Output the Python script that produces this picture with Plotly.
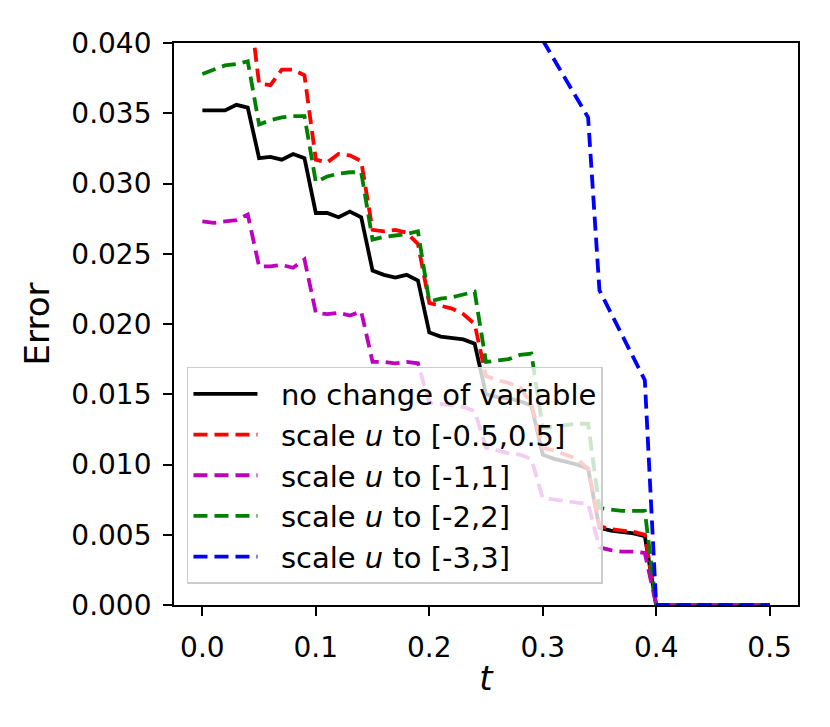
import plotly.graph_objects as go

t = [round(0.01 * i, 2) for i in range(51)]

zeros_tail = [0.0] * 11  # t = 0.40 ... 0.50

no_change = [0.0352, 0.0352, 0.0352, 0.0356, 0.0354,
             0.0318, 0.0319, 0.0317, 0.0321, 0.0318,
             0.0279, 0.0279, 0.0276, 0.0280, 0.0276,
             0.0238, 0.0235, 0.0233, 0.0235, 0.0231,
             0.0194, 0.0191, 0.0190, 0.0189, 0.0186,
             0.0150, 0.0148, 0.0147, 0.0145, 0.0142,
             0.0107, 0.0104, 0.0102, 0.0100, 0.0097,
             0.0055, 0.0053, 0.0052, 0.0051, 0.0049] + zeros_tail

scale_05 = [0.0429, 0.0429, 0.0430, 0.0435, 0.0437,
            0.0371, 0.0370, 0.0381, 0.0381, 0.0377,
            0.0317, 0.0315, 0.0321, 0.0320, 0.0316,
            0.0267, 0.0266, 0.0267, 0.0265, 0.0257,
            0.0215, 0.0213, 0.0211, 0.0207, 0.0200,
            0.0163, 0.0160, 0.0158, 0.0155, 0.0143,
            0.0112, 0.0110, 0.0107, 0.0104, 0.0097,
            0.0056, 0.0054, 0.0053, 0.0052, 0.0050] + zeros_tail

scale_1 = [0.0273, 0.0272, 0.0273, 0.0274, 0.0278,
           0.0241, 0.0241, 0.0242, 0.0240, 0.0246,
           0.0208, 0.0207, 0.0208, 0.0206, 0.0209,
           0.0173, 0.0173, 0.0172, 0.0173, 0.0172,
           0.0144, 0.0143, 0.0142, 0.0141, 0.0138,
           0.0112, 0.0110, 0.0108, 0.0107, 0.0104,
           0.0076, 0.0075, 0.0074, 0.0073, 0.0072,
           0.0041, 0.0039, 0.0038, 0.0038, 0.0037] + zeros_tail

scale_2 = [0.0378, 0.0381, 0.0384, 0.0385, 0.0387,
           0.0342, 0.0345, 0.0347, 0.0348, 0.0348,
           0.0301, 0.0305, 0.0307, 0.0308, 0.0308,
           0.0260, 0.0262, 0.0263, 0.0264, 0.0266,
           0.0216, 0.0218, 0.0219, 0.0221, 0.0223,
           0.0173, 0.0174, 0.0175, 0.0178, 0.0179,
           0.0126, 0.0127, 0.0128, 0.0129, 0.0129,
           0.0069, 0.0068, 0.0067, 0.0067, 0.0067] + zeros_tail

scale_3 = [None] * 30 + [0.0402, 0.0388, 0.0374, 0.0360, 0.0347,
                         0.0224, 0.0208, 0.0192, 0.0175, 0.0160] + zeros_tail

series = [
    ("no change of variable", no_change, "black", "solid"),
    ("scale <i>u</i> to [-0.5,0.5]", scale_05, "red", "14px,7px"),
    ("scale <i>u</i> to [-1,1]", scale_1, "#bf00bf", "14px,7px"),
    ("scale <i>u</i> to [-2,2]", scale_2, "green", "14px,7px"),
    ("scale <i>u</i> to [-3,3]", scale_3, "blue", "14px,7px"),
]

x_ticks = [0.0, 0.1, 0.2, 0.3, 0.4, 0.5]
y_ticks = [0.000, 0.005, 0.010, 0.015, 0.020, 0.025, 0.030, 0.035, 0.040]

fig = go.Figure()
for name, vals, color, dash in series:
    fig.add_trace(go.Scatter(x=t, y=vals, mode="lines",
                             name="&nbsp;&nbsp;" + name,
                             line=dict(color=color, width=3.8, dash=dash)))

FONT = "DejaVu Sans"
fig.update_layout(
    width=822, height=719,
    margin=dict(l=166, r=32, t=35, b=122),
    plot_bgcolor="white", paper_bgcolor="white",
    font=dict(family=FONT, size=28, color="black"),
    showlegend=True,
    legend=dict(x=0.0208, y=0.4235, xanchor="left", yanchor="top",
                bgcolor="rgba(255,255,255,0.8)", bordercolor="#cccccc",
                borderwidth=1.5, font=dict(family=FONT, size=29),
                itemwidth=64),
)
fig.update_xaxes(range=[-0.025, 0.525], tickvals=x_ticks,
                 ticktext=[f"{v:.1f}" for v in x_ticks],
                 showgrid=False, zeroline=False, showline=True, mirror=True,
                 linecolor="black", linewidth=1.8, ticks="outside", ticklen=9,
                 tickwidth=1.8, tickcolor="black", ticklabelstandoff=7,
                 title=dict(text="<i>t</i>", standoff=4))
fig.update_yaxes(range=[0, 0.04], tickvals=y_ticks,
                 ticktext=[f"{v:.3f}" for v in y_ticks],
                 showgrid=False, zeroline=False, showline=True, mirror=True,
                 linecolor="black", linewidth=1.8, ticks="outside", ticklen=9,
                 tickwidth=1.8, tickcolor="black", ticklabelstandoff=6,
                 title=dict(text="Error", standoff=11))

fig.write_html("out.html")
